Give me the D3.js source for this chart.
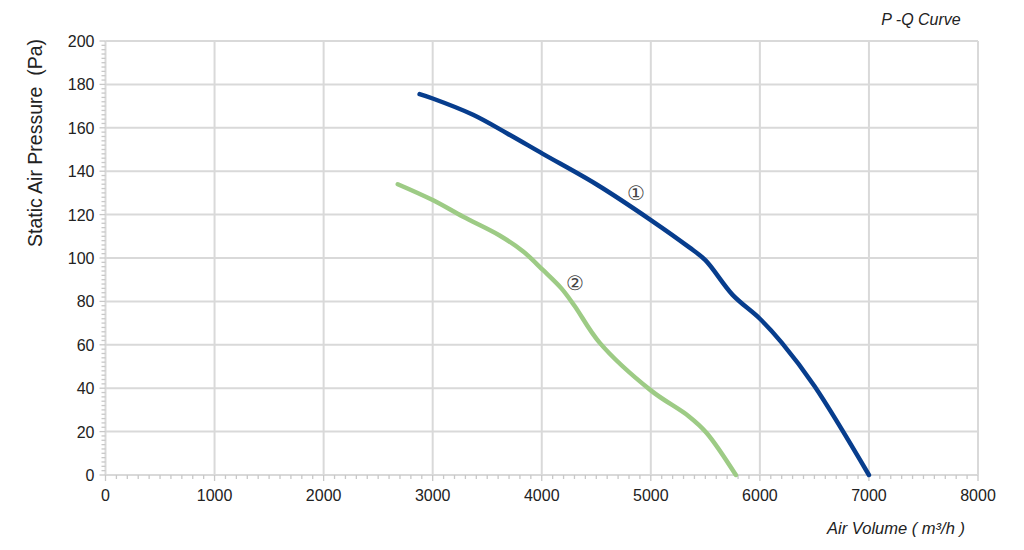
<!DOCTYPE html>
<html><head><meta charset="utf-8">
<script src="https://cdn.jsdelivr.net/npm/d3@7"></script>
<style>body{margin:0;background:#fff}svg{display:block}</style>
</head><body>
<svg id="c" width="1024" height="550"></svg>
<script>
const xTicks = [0,1000,2000,3000,4000,5000,6000,7000,8000];
const yTicks = [0,20,40,60,80,100,120,140,160,180,200];
const curve1X = [2880,3000,3370,3680,4010,4500,5000,5350,5500,5750,6000,6200,6500,7000];
const curve1Y = [175.5,173.5,166,157.5,148,134,117.5,105,99,83,72,61,41,0];
const curve2X = [2680,3000,3280,3610,3830,4010,4180,4300,4530,5000,5350,5510,5780];
const curve2Y = [134,126.7,119,110.5,103,94.5,86,78,61,39,27,19.5,0];
const labels = [{t:"①",x:4862,y:130},{t:"②",x:4303,y:88.5}];

const svg = d3.select("#c");
const x = d3.scaleLinear().domain([0,8000]).range([105.5,978]);
const y = d3.scaleLinear().domain([0,200]).range([475,41]);
const font = "Liberation Sans, Arial, sans-serif";

// grid
svg.append("g").selectAll("line").data(xTicks).join("line")
  .attr("x1",d=>x(d)).attr("x2",d=>x(d)).attr("y1",y(0)).attr("y2",y(200))
  .attr("stroke","#d9d9d9").attr("stroke-width",2);
svg.append("g").selectAll("line").data(yTicks).join("line")
  .attr("x1",x(0)).attr("x2",x(8000)).attr("y1",d=>y(d)).attr("y2",d=>y(d))
  .attr("stroke","#d9d9d9").attr("stroke-width",2);

// minor ticks
const xMinor = d3.range(0,8001,100);
const yMinor = d3.range(0,201,2);
svg.append("g").selectAll("line").data(xMinor).join("line")
  .attr("x1",d=>x(d)).attr("x2",d=>x(d)).attr("y1",y(0)).attr("y2",d=>y(0)+(d%1000===0?6:4))
  .attr("stroke","#c8c8c8").attr("stroke-width",1.3);
svg.append("g").selectAll("line").data(yMinor).join("line")
  .attr("y1",d=>y(d)).attr("y2",d=>y(d)).attr("x1",x(0)).attr("x2",d=>x(0)-(d%20===0?6:4))
  .attr("stroke","#c8c8c8").attr("stroke-width",1.3);

// axis tick labels
svg.append("g").selectAll("text").data(xTicks).join("text")
  .attr("x",d=>x(d)).attr("y",y(0)+26).attr("text-anchor","middle")
  .attr("font-family",font).attr("font-size",16).attr("fill","#222").text(d=>d);
svg.append("g").selectAll("text").data(yTicks).join("text")
  .attr("x",x(0)-11).attr("y",d=>y(d)+6).attr("text-anchor","end")
  .attr("font-family",font).attr("font-size",16).attr("fill","#222").text(d=>d);

// curves
const line = d3.line().x(d=>x(d[0])).y(d=>y(d[1])).curve(d3.curveCatmullRom.alpha(0.5));
svg.append("path").datum(curve2X.map((v,i)=>[v,curve2Y[i]])).attr("d",line)
  .attr("fill","none").attr("stroke","#9dcb85").attr("stroke-width",4.5).attr("stroke-linecap","round");
svg.append("path").datum(curve1X.map((v,i)=>[v,curve1Y[i]])).attr("d",line)
  .attr("fill","none").attr("stroke","#073d8d").attr("stroke-width",4.5).attr("stroke-linecap","round");

// curve labels
svg.append("g").selectAll("text").data(labels).join("text")
  .attr("x",d=>x(d.x)).attr("y",d=>y(d.y)+7).attr("text-anchor","middle")
  .attr("font-family","DejaVu Serif, serif").attr("font-size",20).attr("fill","#444").text(d=>d.t);

// titles
svg.append("text").attr("x",921).attr("y",25).attr("text-anchor","middle")
  .attr("font-family",font).attr("font-size",16).attr("font-style","italic").attr("fill","#222").text("P -Q Curve");
svg.append("text").attr("x",896).attr("y",534).attr("text-anchor","middle")
  .attr("font-family",font).attr("font-size",16.5).attr("font-style","italic").attr("fill","#222").text("Air Volume ( m³/h )");
svg.append("text").attr("transform","translate(42,143) rotate(-90)").attr("text-anchor","middle")
  .attr("font-family",font).attr("font-size",19.5).attr("fill","#222").attr("xml:space","preserve").text("Static Air Pressure  (Pa)");
</script>
</body></html>
